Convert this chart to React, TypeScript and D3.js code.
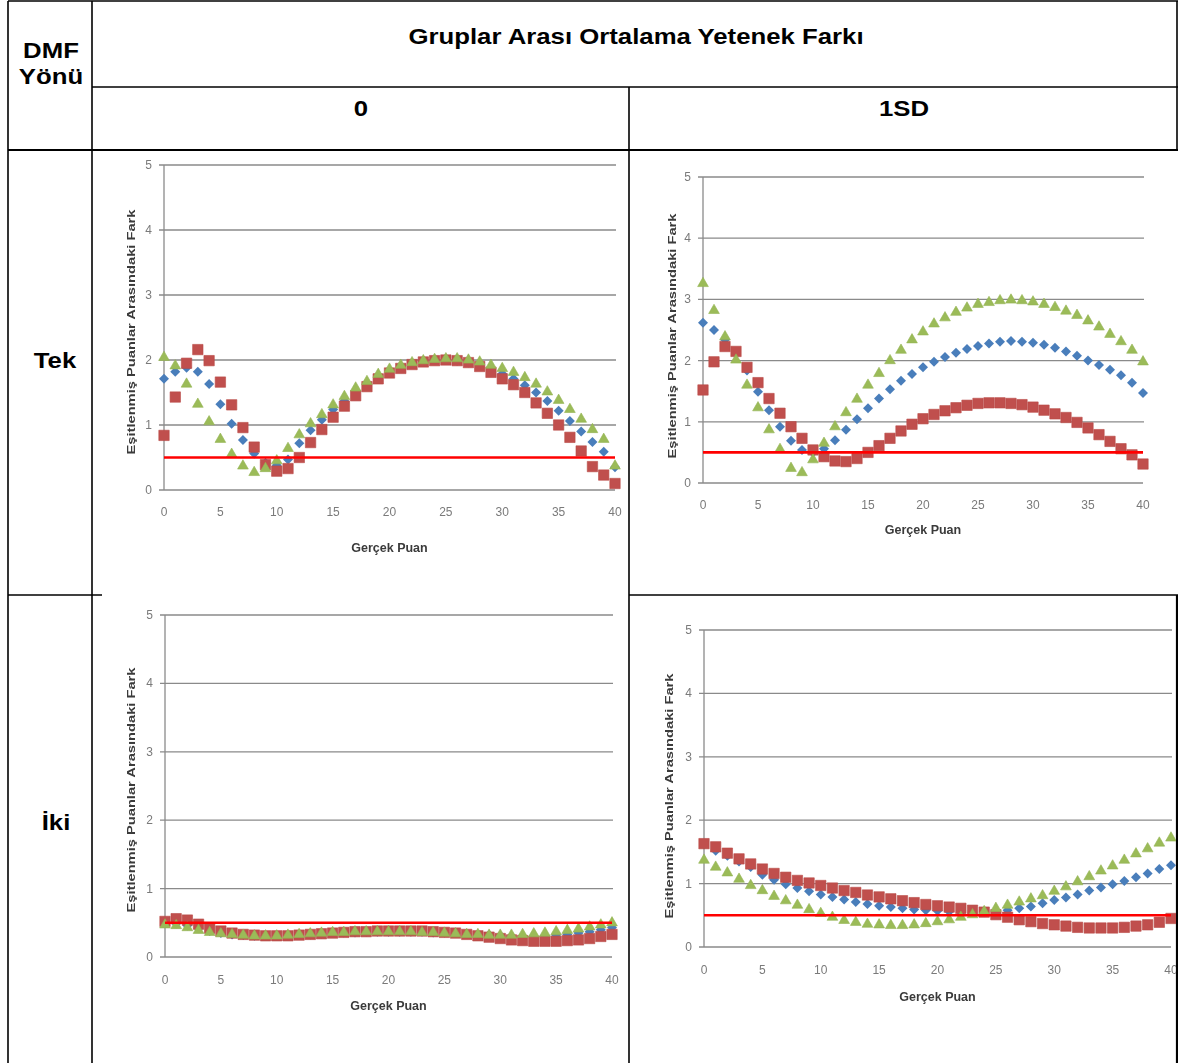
import React from "react";
import * as d3 from "d3";

// Gerçek puan (0–40)
const gercekPuan = [
  0, 1, 2, 3, 4, 5, 6, 7, 8, 9, 10, 11, 12, 13, 14, 15, 16, 17, 18, 19, 20,
  21, 22, 23, 24, 25, 26, 27, 28, 29, 30, 31, 32, 33, 34, 35, 36, 37, 38, 39, 40,
];
const xTicks = [0, 5, 10, 15, 20, 25, 30, 35, 40];
const yTicks = [0, 1, 2, 3, 4, 5];
const esikDegeri = 0.5;

// DMF yönü: Tek, yetenek farkı: 0
const tekSifirMavi = [
  1.71, 1.82, 1.88, 1.82, 1.63, 1.32, 1.02, 0.77, 0.56, 0.42, 0.38, 0.47, 0.72, 0.92, 1.08, 1.24, 1.37, 1.51, 1.63, 1.74, 1.83,
  1.9, 1.95, 1.98, 2.0, 2.0, 1.99, 1.96, 1.92, 1.86, 1.79, 1.71, 1.61, 1.5, 1.37, 1.22, 1.06, 0.9, 0.74, 0.59, 0.35,
];
const tekSifirKirmizi = [
  0.84, 1.43, 1.95, 2.16, 1.99, 1.66, 1.31, 0.96, 0.66, 0.39, 0.29, 0.33, 0.5, 0.73, 0.93, 1.12, 1.29, 1.45, 1.59, 1.71, 1.8,
  1.87, 1.93, 1.97, 1.99, 2.0, 1.99, 1.96, 1.9, 1.81, 1.71, 1.62, 1.5, 1.34, 1.18, 1.0, 0.81, 0.6, 0.36, 0.23, 0.1,
];
const tekSifirYesil = [
  2.04, 1.91, 1.63, 1.32, 1.05, 0.78, 0.55, 0.37, 0.27, 0.33, 0.45, 0.64, 0.85, 1.02, 1.16, 1.31, 1.44, 1.57, 1.67, 1.78, 1.86,
  1.92, 1.96, 1.99, 2.01, 2.02, 2.02, 2.0, 1.97, 1.92, 1.87, 1.81, 1.73, 1.63, 1.51, 1.38, 1.24, 1.09, 0.93, 0.78, 0.37,
];

// DMF yönü: Tek, yetenek farkı: 1SD
const tekSdMavi = [
  2.62, 2.5, 2.34, 2.12, 1.84, 1.49, 1.19, 0.92, 0.69, 0.54, 0.5, 0.56, 0.7, 0.87, 1.04, 1.22, 1.38, 1.53, 1.67, 1.78, 1.89,
  1.98, 2.06, 2.13, 2.19, 2.24, 2.28, 2.31, 2.32, 2.31, 2.29, 2.26, 2.21, 2.15, 2.08, 2.0, 1.93, 1.85, 1.76, 1.64, 1.47,
];
const tekSdKirmizi = [
  1.52, 1.98, 2.23, 2.15, 1.89, 1.64, 1.38, 1.14, 0.92, 0.73, 0.54, 0.43, 0.36, 0.35, 0.4, 0.5, 0.61, 0.73, 0.85, 0.96, 1.05,
  1.12, 1.18, 1.23, 1.27, 1.3, 1.31, 1.31, 1.3, 1.28, 1.24, 1.19, 1.13, 1.07, 0.99, 0.9, 0.79, 0.68, 0.56, 0.46, 0.31,
];
const tekSdYesil = [
  3.26, 2.82, 2.39, 2.01, 1.6, 1.23, 0.87, 0.55, 0.24, 0.17, 0.38, 0.65, 0.92, 1.15, 1.37, 1.6, 1.79, 2.0, 2.17, 2.34, 2.47,
  2.6, 2.7, 2.79, 2.86, 2.92, 2.95, 2.98, 2.99, 2.98, 2.96, 2.92, 2.87, 2.81, 2.74, 2.65, 2.55, 2.43, 2.31, 2.17, 1.98,
];

// DMF yönü: İki, yetenek farkı: 0
const ikiSifirMavi = [
  0.5, 0.49, 0.46, 0.42, 0.38, 0.35, 0.33, 0.32, 0.31, 0.31, 0.31, 0.31, 0.32, 0.33, 0.34, 0.35, 0.36, 0.36, 0.37, 0.37, 0.37,
  0.37, 0.37, 0.37, 0.36, 0.36, 0.35, 0.34, 0.33, 0.32, 0.31, 0.3, 0.3, 0.3, 0.31, 0.32, 0.33, 0.35, 0.37, 0.4, 0.43,
];
const ikiSifirKirmizi = [
  0.52, 0.56, 0.54, 0.48, 0.42, 0.38, 0.35, 0.33, 0.32, 0.31, 0.31, 0.31, 0.32, 0.33, 0.34, 0.35, 0.36, 0.37, 0.37, 0.38, 0.38,
  0.38, 0.38, 0.38, 0.37, 0.36, 0.35, 0.33, 0.31, 0.29, 0.27, 0.25, 0.24, 0.23, 0.23, 0.23, 0.24, 0.25, 0.27, 0.3, 0.33,
];
const ikiSifirYesil = [
  0.47, 0.46, 0.43, 0.39, 0.36, 0.34, 0.33, 0.32, 0.31, 0.31, 0.31, 0.32, 0.33, 0.34, 0.35, 0.36, 0.36, 0.37, 0.37, 0.37, 0.37,
  0.37, 0.37, 0.36, 0.36, 0.35, 0.34, 0.33, 0.33, 0.32, 0.32, 0.32, 0.33, 0.34, 0.35, 0.37, 0.39, 0.41, 0.44, 0.47, 0.5,
];

// DMF yönü: İki, yetenek farkı: 1SD
const ikiSdMavi = [
  1.62, 1.52, 1.44, 1.35, 1.26, 1.14, 1.06, 0.99, 0.93, 0.88, 0.83, 0.79, 0.75, 0.71, 0.68, 0.65, 0.63, 0.61, 0.59, 0.58, 0.57,
  0.56, 0.55, 0.55, 0.55, 0.56, 0.58, 0.61, 0.64, 0.69, 0.74, 0.78, 0.83, 0.89, 0.94, 0.99, 1.04, 1.1, 1.16, 1.23, 1.29,
];
const ikiSdKirmizi = [
  1.63, 1.58, 1.48, 1.39, 1.31, 1.23, 1.16, 1.1, 1.05, 1.01, 0.97, 0.93, 0.89, 0.86, 0.82, 0.79, 0.76, 0.73, 0.7, 0.67, 0.65,
  0.63, 0.61, 0.58, 0.55, 0.51, 0.47, 0.43, 0.4, 0.37, 0.35, 0.33, 0.31, 0.3, 0.3, 0.3, 0.31, 0.33, 0.35, 0.39, 0.45,
];
const ikiSdYesil = [
  1.37, 1.26, 1.17, 1.07, 0.97, 0.89, 0.8, 0.73, 0.66, 0.59, 0.53, 0.47, 0.42, 0.39, 0.36, 0.35, 0.34, 0.34, 0.35, 0.37, 0.4,
  0.43, 0.47, 0.51, 0.56, 0.61, 0.66, 0.71, 0.76, 0.81, 0.88, 0.95, 1.03, 1.11, 1.2, 1.28, 1.37, 1.47, 1.55, 1.64, 1.72,
];

const baslik = "Gruplar Arası Ortalama Yetenek Farkı";
const sutunBasliklari = ["0", "1SD"];
const satirBasliklari = ["Tek", "İki"];
const xBaslik = "Gerçek Puan";
const yBaslik = "Eşitlenmiş Puanlar Arasındaki Fark";

const FONT = "'Liberation Sans', Arial, Helvetica, sans-serif";
const BLUE = "#4a7ebb";
const RED = "#c0504d";
const GREEN = "#9bbb59";
const GRID = "#8a8a8a";

const diamondPath = d3.symbol(d3.symbolSquare, 50)() as string;
const squarePath = d3.symbol(d3.symbolSquare, 108)() as string;
const trianglePath = d3.symbol(d3.symbolTriangle, 50)() as string;

type Layout = {
  id: string;
  x0: number;
  x1: number;
  y0: number;
  y1: number;
  yLabelX: number;
  yLabelY: number;
  xTickY: number;
  xTitleY: number;
  clipRight?: number;
};

function ChartPanel({
  layout,
  blue,
  red,
  green,
}: {
  layout: Layout;
  blue: number[];
  red: number[];
  green: number[];
}) {
  const x = d3.scaleLinear().domain([0, 40]).range([layout.x0, layout.x1]);
  const y = d3.scaleLinear().domain([0, 5]).range([layout.y0, layout.y1]);
  const clipId = `clip-${layout.id}`;
  const right = layout.clipRight ?? 1178;

  return (
    <g filter="url(#soft)">
      <defs>
        <clipPath id={clipId}>
          <rect x={0} y={0} width={right} height={1063} />
        </clipPath>
      </defs>
      <g clipPath={`url(#${clipId})`}>
        {yTicks.map((t) => (
          <g key={`g${t}`}>
            <line
              x1={x(0) - 5}
              x2={t === 0 ? x(40) : x(40) + 1}
              y1={y(t)}
              y2={y(t)}
              stroke={GRID}
              strokeWidth={1.3}
            />
            <text
              x={x(0) - 12}
              y={y(t) + 4}
              textAnchor="end"
              fontFamily={FONT}
              fontSize={12}
              fill="#7a7a7a"
            >
              {t}
            </text>
          </g>
        ))}
        <line x1={x(0)} x2={x(0)} y1={y(0)} y2={y(5)} stroke={GRID} strokeWidth={1.3} />
        {xTicks.map((t) => (
          <text
            key={`x${t}`}
            x={x(t)}
            y={layout.xTickY + 4}
            textAnchor="middle"
            fontFamily={FONT}
            fontSize={12}
            fill="#7a7a7a"
          >
            {t}
          </text>
        ))}
        <text
          x={(layout.x0 + layout.x1) / 2}
          y={layout.xTitleY + 4}
          textAnchor="middle"
          fontFamily={FONT}
          fontSize={12.5}
          fontWeight="bold"
          fill="#3a3a3a"
        >
          {xBaslik}
        </text>
        <text
          transform={`translate(${layout.yLabelX},${layout.yLabelY}) rotate(-90)`}
          textAnchor="middle"
          dy={4}
          fontFamily={FONT}
          fontSize={11}
          fontWeight="bold"
          fill="#3a3a3a"
          textLength={245}
          lengthAdjust="spacingAndGlyphs"
        >
          {yBaslik}
        </text>

        {gercekPuan.map((p, i) => (
          <path
            key={`b${i}`}
            d={diamondPath}
            transform={`translate(${x(p)},${y(blue[i])}) rotate(45)`}
            fill={BLUE}
          />
        ))}
        {gercekPuan.map((p, i) => (
          <path
            key={`r${i}`}
            d={squarePath}
            transform={`translate(${x(p)},${y(red[i])})`}
            fill={RED}
            stroke="#b84a47"
            strokeWidth={0.6}
          />
        ))}
        {gercekPuan.map((p, i) => (
          <path
            key={`t${i}`}
            d={trianglePath}
            transform={`translate(${x(p)},${y(green[i])})`}
            fill={GREEN}
            stroke="#93b452"
            strokeWidth={0.6}
          />
        ))}
        <line
          x1={x(0)}
          x2={x(40)}
          y1={y(esikDegeri)}
          y2={y(esikDegeri)}
          stroke="#ff0000"
          strokeWidth={2.6}
        />
      </g>
    </g>
  );
}

const layouts: Layout[] = [
  { id: "tl", x0: 164, x1: 615, y0: 490, y1: 165, yLabelX: 131, yLabelY: 332, xTickY: 512, xTitleY: 548 },
  { id: "tr", x0: 703, x1: 1143, y0: 483, y1: 177, yLabelX: 672, yLabelY: 336, xTickY: 505, xTitleY: 530 },
  { id: "bl", x0: 165, x1: 612, y0: 957, y1: 615, yLabelX: 131, yLabelY: 790, xTickY: 980, xTitleY: 1006 },
  { id: "br", x0: 704, x1: 1171, y0: 947, y1: 630, yLabelX: 669, yLabelY: 796, xTickY: 970, xTitleY: 997, clipRight: 1176 },
];

function HeaderText({ x, y, children }: { x: number; y: number; children: React.ReactNode }) {
  return (
    <text
      transform={`translate(${x},${y}) scale(1.12,1)`}
      textAnchor="middle"
      fontFamily={FONT}
      fontSize={23}
      fontWeight="bold"
      fill="#000"
    >
      {children}
    </text>
  );
}

export default function App() {
  const line = { stroke: "#000", strokeWidth: 1.6 };
  return (
    <svg
      width={1178}
      height={1063}
      viewBox="0 0 1178 1063"
      style={{ position: "absolute", left: 0, top: 0, display: "block", background: "#fff" }}
    >
      <defs>
        <filter id="soft" x="-5%" y="-5%" width="110%" height="110%">
          <feGaussianBlur stdDeviation={0.55} />
        </filter>
      </defs>
      <rect x={0} y={0} width={1178} height={1063} fill="#fff" />

      {/* table grid */}
      <line x1={8} x2={1178} y1={1} y2={1} {...line} />
      <line x1={8} x2={8} y1={1} y2={1063} {...line} />
      <line x1={92} x2={92} y1={1} y2={1063} {...line} />
      <line x1={1177} x2={1177} y1={1} y2={150} {...line} />
      <line x1={1177} x2={1177} y1={595} y2={1063} stroke="#000" strokeWidth={2.2} />
      <line x1={92} x2={1178} y1={87} y2={87} {...line} />
      <line x1={629} x2={629} y1={87} y2={1063} {...line} />
      <line x1={8} x2={1178} y1={150} y2={150} stroke="#000" strokeWidth={2.2} />
      <line x1={8} x2={102} y1={595} y2={595} {...line} />
      <line x1={629} x2={1178} y1={595} y2={595} {...line} />

      <HeaderText x={51} y={58}>DMF</HeaderText>
      <HeaderText x={51} y={84}>Yönü</HeaderText>
      <HeaderText x={636} y={44}>{baslik}</HeaderText>
      <HeaderText x={361} y={116}>{sutunBasliklari[0]}</HeaderText>
      <HeaderText x={904} y={116}>{sutunBasliklari[1]}</HeaderText>
      <HeaderText x={55} y={368}>{satirBasliklari[0]}</HeaderText>
      <HeaderText x={56} y={830}>{satirBasliklari[1]}</HeaderText>

      <ChartPanel layout={layouts[0]} blue={tekSifirMavi} red={tekSifirKirmizi} green={tekSifirYesil} />
      <ChartPanel layout={layouts[1]} blue={tekSdMavi} red={tekSdKirmizi} green={tekSdYesil} />
      <ChartPanel layout={layouts[2]} blue={ikiSifirMavi} red={ikiSifirKirmizi} green={ikiSifirYesil} />
      <ChartPanel layout={layouts[3]} blue={ikiSdMavi} red={ikiSdKirmizi} green={ikiSdYesil} />
    </svg>
  );
}
